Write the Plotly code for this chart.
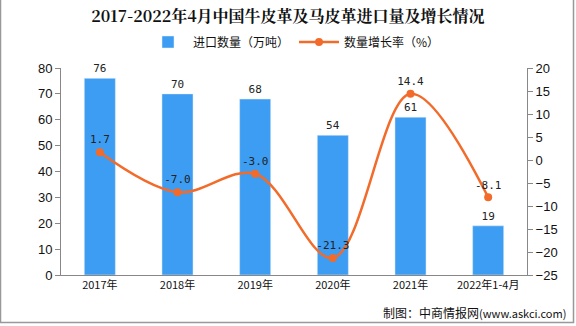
import plotly.graph_objects as go

categories = ["2017年", "2018年", "2019年", "2020年", "2021年", "2022年1-4月"]
import_volume = [76, 70, 68, 54, 61, 19]
growth_rate = [1.7, -7.0, -3.0, -21.3, 14.4, -8.1]
left_ticks = [0, 10, 20, 30, 40, 50, 60, 70, 80]
right_ticks = [-25, -20, -15, -10, -5, 0, 5, 10, 15, 20]

BAR = "#3D9DF2"
LINE = "#F26B2A"
FONT = "Noto Sans CJK SC"

W, H = 576, 326
L, R, T, B = 61, 49, 68, 51
PW, PH = W - L - R, H - T - B

def px_x(px):
    return (px - L) / PW

def px_y(py):
    return (H - B - py) / PH

fig = go.Figure()
fig.add_trace(go.Bar(
    x=categories, y=import_volume, name="进口数量（万吨）",
    marker_color=BAR, width=0.4,
    text=[str(v) for v in import_volume], textposition="outside",
    textfont=dict(size=11, color="#222", family="DejaVu Sans Mono"),
    cliponaxis=False,
))
fig.add_trace(go.Scatter(
    x=categories, y=growth_rate, name="数量增长率（%）", yaxis="y2",
    mode="lines+markers+text", line=dict(color=LINE, width=2.5, shape="spline"),
    marker=dict(size=8, color=LINE),
    text=[f"{v:.1f}" for v in growth_rate], textposition="top center",
    textfont=dict(size=11, color="#222", family="DejaVu Sans Mono"),
    cliponaxis=False,
))

fig.update_layout(
    width=W, height=H,
    margin=dict(l=L, r=R, t=T, b=B, autoexpand=False),
    paper_bgcolor="white", plot_bgcolor="white",
    font=dict(family=FONT, color="#111"),
    title=dict(text="<b>2017-2022年4月中国牛皮革及马皮革进口量及增长情况</b>",
               x=0.5, xanchor="center", y=1 - 16 / H, yanchor="middle",
               font=dict(size=16, family="Noto Serif CJK SC, " + FONT, color="#111")),
    showlegend=True,
    legend=dict(orientation="h", x=0.5, xanchor="center", y=px_y(42), yref="paper",
                yanchor="middle", font=dict(size=12, family=FONT), itemwidth=40,
                bgcolor="rgba(0,0,0,0)"),
    bargap=0.6,
    xaxis=dict(showline=True, linecolor="#888", ticks="", tickfont=dict(size=11),
               showgrid=False),
    yaxis=dict(range=[0, 80], tickvals=left_ticks, showline=True, linecolor="#888",
               ticks="outside", ticklen=5, tickcolor="#888", showgrid=False,
               tickfont=dict(size=13, family="Liberation Sans"), zeroline=False),
    yaxis2=dict(range=[-25, 20], tickvals=right_ticks, overlaying="y", side="right",
                showline=True, linecolor="#888", ticks="outside", ticklen=5,
                tickcolor="#888", showgrid=False, zeroline=False,
                tickfont=dict(size=13, family="Liberation Sans")),
)
fig.add_shape(type="rect", xref="paper", yref="paper",
              x0=px_x(0.5), x1=px_x(573.5), y0=px_y(322.5), y1=px_y(-2),
              line=dict(color="#999", width=1.5), layer="above")
fig.add_annotation(text="制图：中商情报网<span style='font-size:11px'>(www.askci.com)</span>",
                   xref="paper", yref="paper", x=px_x(568), y=px_y(312), xanchor="right",
                   yanchor="middle", showarrow=False, font=dict(size=12, family=FONT, color="#111"))
fig.write_html("out.html")
